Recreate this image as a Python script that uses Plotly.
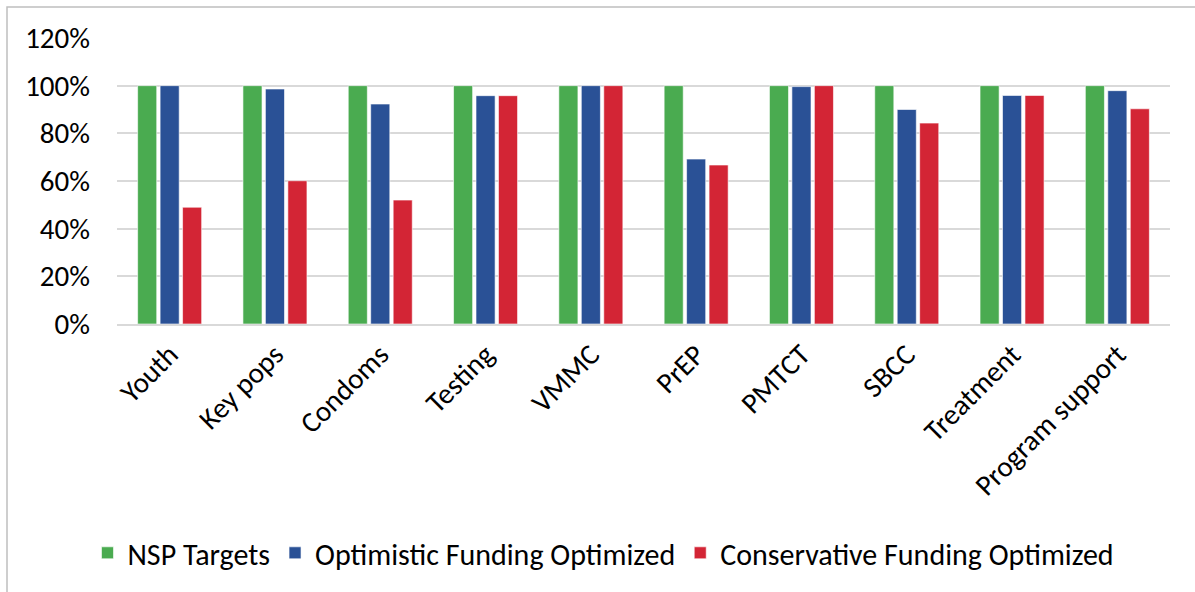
import plotly.graph_objects as go

categories = ["Youth", "Key pops", "Condoms", "Testing", "VMMC", "PrEP",
              "PMTCT", "SBCC", "Treatment", "Program support"]
nsp_targets = [1.00, 1.00, 1.00, 1.00, 1.00, 1.00, 1.00, 1.00, 1.00, 1.00]
optimistic = [1.00, 0.986, 0.923, 0.958, 1.00, 0.692, 0.996, 0.900, 0.959, 0.979]
conservative = [0.490, 0.601, 0.520, 0.958, 1.00, 0.667, 1.00, 0.843, 0.959, 0.903]
y_ticks = [0, 0.2, 0.4, 0.6, 0.8, 1.0, 1.2]
y_tick_labels = ["0%", "20%", "40%", "60%", "80%", "100%", "120%"]

FONT = "Carlito, Calibri, Lato, sans-serif"

series = [
    ("NSP Targets", nsp_targets, "#4AAB50"),
    ("Optimistic Funding Optimized", optimistic, "#2A5196"),
    ("Conservative Funding Optimized", conservative, "#D32535"),
]

fig = go.Figure()
for name, vals, col in series:
    fig.add_trace(go.Bar(
        x=categories, y=vals, name=name,
        marker=dict(color=col, line=dict(color="rgba(255,255,255,0.6)", width=1)),
    ))

fig.update_layout(
    width=1195, height=592,
    margin=dict(l=117, r=25, t=38, b=268),
    paper_bgcolor="white", plot_bgcolor="white",
    barmode="group", bargap=0.36, bargroupgap=0.15,
    font=dict(family=FONT, size=29, color="#000000"),
    showlegend=True,
    legend=dict(orientation="h", x=0.462, xanchor="center", y=-0.80, yanchor="middle",
                font=dict(family=FONT, size=30, color="#000000"),
                itemwidth=30, traceorder="normal"),
    xaxis=dict(tickangle=-45, showgrid=False, showline=True, linecolor="#d9d9d9",
               linewidth=2, ticks="", tickfont=dict(size=29), automargin=False),
    yaxis=dict(range=[0, 1.2], tickvals=y_ticks, ticktext=y_tick_labels,
               showgrid=True, gridcolor="#d9d9d9", gridwidth=2,
               zeroline=False, ticks="", ticklabelstandoff=26,
               tickfont=dict(size=29), automargin=False),
    shapes=[dict(type="rect", xref="paper", yref="paper",
                 x0=(7 - 117) / 1053, x1=(1210 - 117) / 1053,
                 y0=(324 - 610) / 286, y1=(324 - 7) / 286,
                 line=dict(color="#bfbfbf", width=1.5), fillcolor="rgba(0,0,0,0)",
                 layer="below")],
)

fig.write_html("out.html", config={"displayModeBar": False},
               post_script="document.body.style.margin='0';document.body.style.padding='0';")
